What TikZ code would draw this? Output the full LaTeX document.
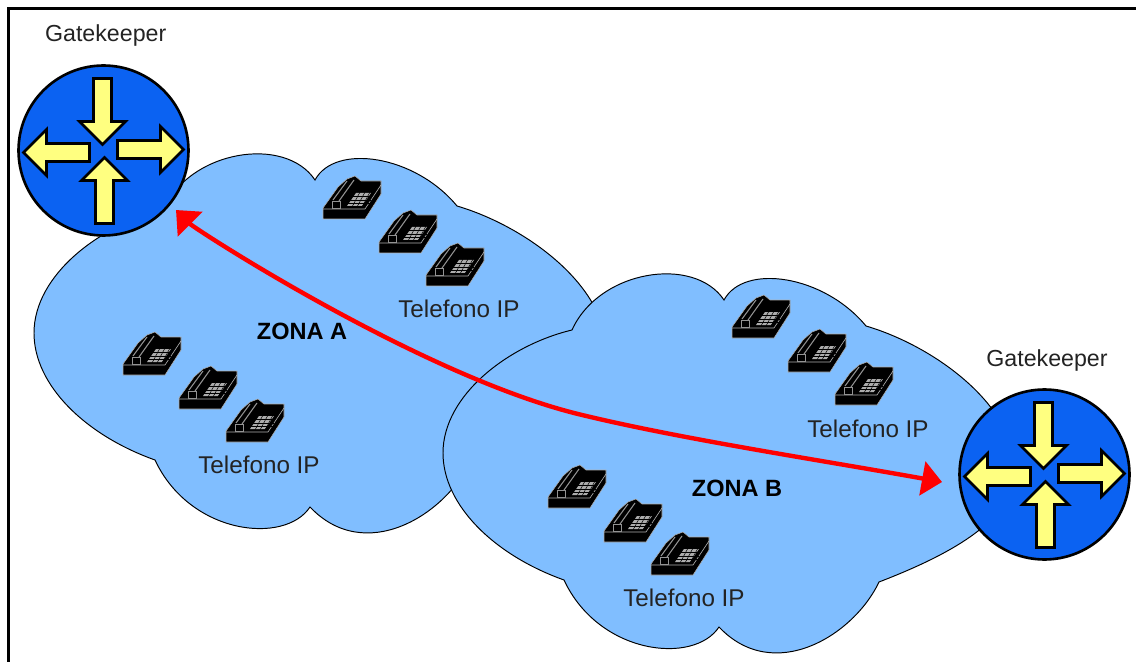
\documentclass[tikz,border=0pt]{standalone}
\usepackage{fontspec}
\setmainfont{Liberation Sans}
\usepackage{tikz}
\usetikzlibrary{arrows.meta,positioning}

\definecolor{zonablue}{RGB}{128,190,255}
\definecolor{gateblue}{RGB}{11,98,242}
\definecolor{gateyellow}{RGB}{255,255,128}
\definecolor{labelgray}{RGB}{35,35,35}

\tikzset{
  gate text/.style={font=\fontsize{13.2}{16}\selectfont,text=labelgray,inner sep=0pt,anchor=base},
  phone text/.style={font=\fontsize{13.8}{16}\selectfont,text=labelgray,inner sep=0pt,anchor=base},
  zona text/.style={font=\fontsize{13.4}{16}\selectfont\bfseries,text=black,inner sep=0pt,anchor=base},
  zona cloud/.style={draw=black,line width=0.55pt,fill=zonablue},
  gate circle/.style={circle,draw=black,line width=1.5pt,fill=gateblue,minimum size=3.4cm,inner sep=0pt},
  gate arrow/.style={draw=black,line width=1.5pt,fill=gateyellow,miter limit=4},
  link/.style={draw=red,line width=2.5pt,{Triangle[length=0.4cm,width=0.68cm]}-{Triangle[length=0.4cm,width=0.68cm]}},
  gatearrow/.pic={
    \path[gate arrow] (0,-9) -- (43,-9) -- (43,-23) -- (66,0) -- (43,23) -- (43,9) -- (0,9) -- cycle;
  },
  gatearrows/.pic={
    \pic at (14,-1) {gatearrow};
    \pic[rotate=180] at (-14,2) {gatearrow};
    \pic[rotate=-90] at (-1,-72) {gatearrow};
    \pic[rotate=90] at (1,73) {gatearrow};
  },
  phone/.pic={
    \path[fill=black,draw=gray!60,line width=0.3pt] (0,32) -- (15,11) -- (24,3) -- (32,0) -- (38,5) -- (58,5)
      -- (58,18) -- (42,43) -- (0,43) -- cycle;
    \draw[gray!60,line width=0.35pt] (0,33) -- (42,33) -- (58,9);
    \draw[gray!85,line width=0.6pt] (10,24) -- (24,5) (16,25) -- (31,4);
    \draw[gray!85,line width=0.5pt] (9,25) rectangle (17,32);
    \fill[gray!65] (24,30) -- (33,17) -- (48,17) -- (39,30) -- cycle;
    \foreach \gy in {20.5,24,27.5}
      \draw[black,line width=0.3pt] (24,\gy) -- (48,\gy);
    \foreach \gx in {29,34,39}
      \draw[black,line width=0.3pt] (\gx,31) -- (\gx+8,16);
  },
  phones/.pic={
    \pic at (0,0) {phone};
    \pic at (56,34) {phone};
    \pic at (103,67) {phone};
  }
}

\newcommand{\zonapath}{(163,210) .. controls (190,150) and (285,135) .. (315,180)
  .. controls (335,143) and (415,155) .. (457,206)
  .. controls (525,226) and (606,285) .. (606,350)
  .. controls (606,400) and (540,435) .. (470,462)
  .. controls (445,515) and (365,565) .. (310,507)
  .. controls (285,545) and (190,535) .. (155,460)
  .. controls (85,435) and (34,385) .. (34,333)
  .. controls (34,275) and (100,225) .. (163,210) -- cycle}

\begin{document}
\begin{tikzpicture}[x=0.02cm,y=-0.02cm]
  \useasboundingbox (0,0) rectangle (1136,662);
  \fill[white] (0,0) rectangle (1136,662);

  % frame
  \draw[black,line width=1.4pt] (8.5,662) -- (8.5,8.5) -- (1136,8.5);

  % zones
  \path[zona cloud] \zonapath;
  \begin{scope}[shift={(409,120)}]
    \path[zona cloud] \zonapath;
  \end{scope}

  % gatekeepers
  \node[gate circle] (gate_a) at (103.5,150.5) {};
  \node[gate circle] (gate_b) at (1044.5,474.5) {};
  \pic at (gate_a) {gatearrows};
  \pic at (gate_b) {gatearrows};

  % phones
  \pic at (323,176) {phones};
  \pic at (123,332) {phones};
  \pic at (732,295) {phones};
  \pic at (548,465) {phones};

  % labels
  \node[gate text] (gate_a_label) at (105.7,41.7) {Gatekeeper};
  \node[gate text] (gate_b_label) at (1047,366.7) {Gatekeeper};
  \node[phone text] (phones_a1_label) at (459,317.7) {Telefono IP};
  \node[phone text] (phones_a2_label) at (259,473) {Telefono IP};
  \node[phone text] (phones_b1_label) at (868,437.7) {Telefono IP};
  \node[phone text] (phones_b2_label) at (684,606) {Telefono IP};
  \node[zona text] (zona_a) at (302,339) {ZONA A};
  \node[zona text] (zona_b) at (737,496) {ZONA B};

  % link between the gatekeepers
  \coordinate (link_a) at (176,210);
  \coordinate (link_b) at (942,482);
  \coordinate (link_mid) at (578,414);
  \path[link] (link_a) .. controls (195,229) and (420,375) .. (link_mid)
    .. controls (680,439) and (820,460) .. (link_b);
\end{tikzpicture}
\end{document}
